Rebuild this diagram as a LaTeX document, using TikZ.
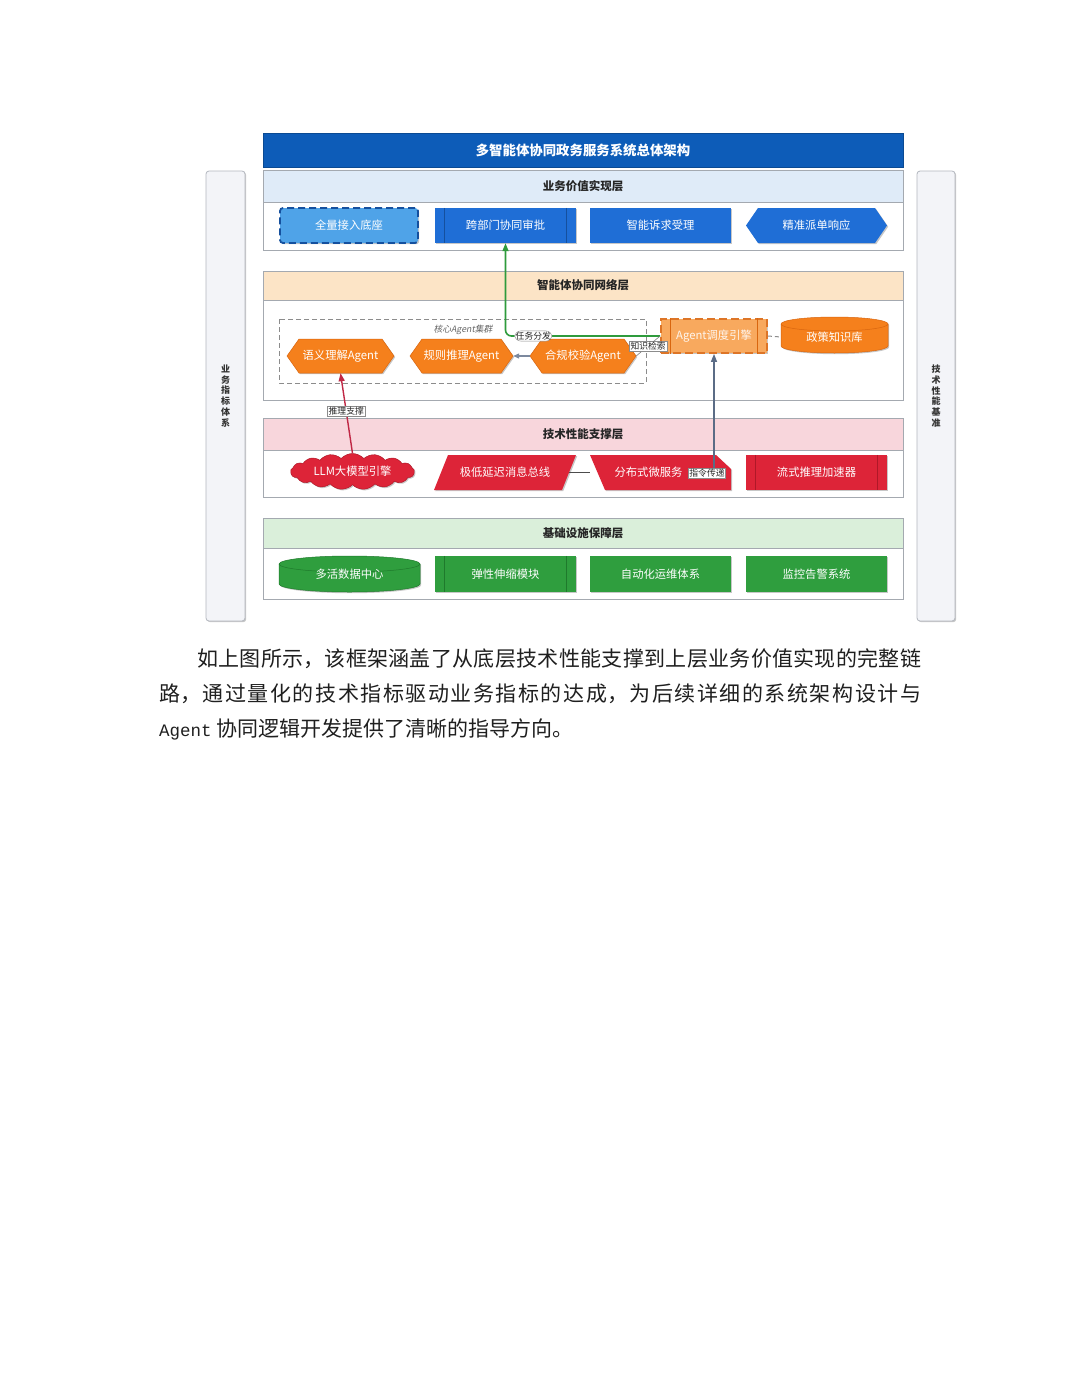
\documentclass[tikz,border=0pt]{standalone}
\usepackage{fontspec}
\setmainfont{Noto Sans CJK SC}
\newfontfamily\monof{Liberation Mono}
\newfontfamily\slcjk{Noto Sans CJK SC}[FakeSlant=0.2]
\usetikzlibrary{shapes.symbols,shapes.geometric,shadows,arrows.meta}
\XeTeXlinebreaklocale "zh"
\XeTeXlinebreakskip=0pt plus 2pt\relax
\definecolor{titleblue}{HTML}{0D5CB8}
\definecolor{bluehdr}{HTML}{DFEBF8}
\definecolor{bluenode}{HTML}{1F6ED6}
\definecolor{bluedark}{HTML}{15509E}
\definecolor{bluelight}{HTML}{4FA3E8}
\definecolor{orghdr}{HTML}{FCE4C6}
\definecolor{orgnode}{HTML}{F5801C}
\definecolor{orglight}{HTML}{F8A95E}
\definecolor{orgdark}{HTML}{D9660F}
\definecolor{redhdr}{HTML}{F8D6DC}
\definecolor{rednode}{HTML}{DD2438}
\definecolor{reddark}{HTML}{B01828}
\definecolor{grnhdr}{HTML}{DAEFDA}
\definecolor{grnnode}{HTML}{2F9E3E}
\definecolor{grndark}{HTML}{1F7A2C}
\definecolor{sidefill}{HTML}{F3F4F8}
\definecolor{sidedraw}{HTML}{B3B7BF}
\definecolor{laydraw}{HTML}{A4A9B0}
\definecolor{slate}{HTML}{5B6C86}
\definecolor{greenline}{HTML}{2E9B3C}
\definecolor{crimson}{HTML}{C02845}
\newcommand\hexshape[6]{\path[#6] (#1,{(#2+#4)/2}) -- ({#1+#5},#2) -- ({#3-#5},#2) -- (#3,{(#2+#4)/2}) -- ({#3-#5},#4) -- ({#1+#5},#4) -- cycle;}
\newcommand\cylshape[6]{%
  \path[#6] (#1,{#2+#5}) -- (#1,{#4-#5}) arc[start angle=180,end angle=0,x radius={(#3-#1)/2},y radius=#5] -- (#3,{#2+#5}) arc[start angle=0,end angle=-180,x radius={(#3-#1)/2},y radius=#5] -- cycle;}
\begin{document}
\begin{tikzpicture}[x=1pt,y=-1pt,
  hdrtxt/.style={font=\bfseries\fontsize{11.5}{13}\selectfont, text=black!85},
  ntxt/.style={font=\fontsize{11.3}{13}\selectfont, text=white, inner sep=0pt},
  lbl/.style={font=\fontsize{8.8}{10}\selectfont, fill=white, draw=black!45, line width=0.4pt, inner sep=1pt, text=black!85},
  sh/.style={drop shadow={shadow xshift=1.2pt, shadow yshift=-1.2pt, opacity=0.22, fill=black}},
  layer/.style={draw=laydraw, line width=0.8pt, fill=white, minimum width=640, inner sep=0pt},
  hdr/.style={draw=laydraw, line width=0.8pt, minimum width=640, inner sep=0pt, hdrtxt},
  inl/.style={line width=0.9pt},
  sidebar/.style={draw=sidedraw, fill=sidefill, rounded corners=3pt, line width=0.8pt, sh, inner sep=0pt},
  sidetxt/.style={font=\bfseries\fontsize{9}{10.8}\selectfont, text=black!80, align=center},
]
\useasboundingbox (0,0) rectangle (1080,1397);
\fill[white] (0,0) rectangle (1080,1397);

% side bars
\node[sidebar, minimum width=39, minimum height=450] (lbar) at (225.5,396) {};
\node[sidetxt] (lbart) at (lbar.center) {业\\务\\指\\标\\体\\系};
\node[sidebar, minimum width=38, minimum height=450] (rbar) at (936,396) {};
\node[sidetxt] (rbart) at (rbar.center) {技\\术\\性\\能\\基\\准};

% title
\node[fill=titleblue, draw=titleblue!80!black, minimum width=640, minimum height=34, inner sep=0pt, font=\bfseries\fontsize{13.4}{15}\selectfont, text=white, sh] (title) at (583,150) {多智能体协同政务服务系统总体架构};

% layers
\node[layer, minimum height=80] (L1) at (583,210) {};
\node[hdr, fill=bluehdr, minimum height=32] (L1h) at (583,186) {业务价值实现层};
\node[layer, minimum height=129] (L2) at (583,335.5) {};
\node[hdr, fill=orghdr, minimum height=29] (L2h) at (583,285.5) {智能体协同网络层};
\node[layer, minimum height=79] (L3) at (583,457.5) {};
\node[hdr, fill=redhdr, minimum height=32] (L3h) at (583,434) {技术性能支撑层};
\node[layer, minimum height=81] (L4) at (583,558.5) {};
\node[hdr, fill=grnhdr, minimum height=30] (L4h) at (583,533) {基础设施保障层};

% ---- business layer nodes
\node[ntxt, fill=bluelight, draw=bluedark, line width=1.8pt, dash pattern=on 7pt off 4pt, rounded corners=3pt, minimum width=138, minimum height=35, sh] (b1) at (349,225.5) {全量接入底座};
\node[ntxt, fill=bluenode, minimum width=141, minimum height=35, sh] (b2) at (505.5,225.5) {跨部门协同审批};
\draw[inl, draw=bluedark] ([xshift=10pt]b2.north west) -- ([xshift=10pt]b2.south west);
\draw[inl, draw=bluedark] ([xshift=-10pt]b2.north east) -- ([xshift=-10pt]b2.south east);
\node[ntxt, fill=bluenode, minimum width=141, minimum height=35, sh] (b3) at (660.5,225.5) {智能诉求受理};
\hexshape{746}{208}{887}{243}{12}{fill=bluenode, sh}
\node[ntxt, minimum width=141, minimum height=35] (b4) at (816.5,225.5) {精准派单响应};

% ---- agent layer
\draw[black!45, dashed, line width=0.7pt, dash pattern=on 5pt off 3pt] (279,319) rectangle (646,383);
\node[font=\slcjk\fontsize{8.8}{10}\selectfont, text=black!60, inner sep=0pt] (clab) at (463,330) {核心Agent集群};
\hexshape{287}{339}{394}{373}{12}{fill=orgnode, draw=orgdark, line width=0.5pt, sh}
\node[ntxt, minimum width=107, minimum height=34] (a1) at (340.5,356) {语义理解Agent};
\hexshape{410}{339}{513}{373}{12}{fill=orgnode, draw=orgdark, line width=0.5pt, sh}
\node[ntxt, minimum width=103, minimum height=34] (a2) at (461.5,356) {规则推理Agent};
\hexshape{530}{339}{636}{373}{12}{fill=orgnode, draw=orgdark, line width=0.5pt, sh}
\node[ntxt, minimum width=106, minimum height=34] (a3) at (583,356) {合规校验Agent};
\node[ntxt, text=white!92!orgnode, fill=orglight, draw=orgdark!90, line width=1.8pt, dash pattern=on 8pt off 4pt, minimum width=106, minimum height=34, sh] (disp) at (714,336) {Agent调度引擎};
\draw[inl, draw=orgdark] ([xshift=10pt]disp.north west) -- ([xshift=10pt]disp.south west);
\draw[inl, draw=orgdark] ([xshift=-10pt]disp.north east) -- ([xshift=-10pt]disp.south east);
\cylshape{781}{317}{888}{353}{7}{fill=orgnode, draw=orgdark, line width=0.5pt, sh}
\draw[orgdark, line width=0.5pt] (781,324) arc[start angle=180,end angle=0,x radius=53.5,y radius=7];
\node[ntxt, minimum width=107, minimum height=30] (kb) at (834.5,337) {政策知识库};

% ---- tech layer
\node[cloud, cloud puffs=17, cloud puff arc=95, aspect=4, fill=rednode, draw=reddark, line width=0.5pt, minimum width=124, minimum height=30, inner sep=0pt, font=\fontsize{11.3}{13}\selectfont, text=white, sh] (llm) at (352.5,471.5) {LLM大模型引擎};
\path[fill=rednode, sh] (448,455) -- (576,455) -- (562,490) -- (434,490) -- cycle;
\node[ntxt, minimum width=128, minimum height=35] (bus) at (505,472.5) {极低延迟消息总线};
\path[fill=rednode, sh] (590,455) -- (716,455) -- (731,469) -- (731,490) -- (605,490) -- cycle;
\node[ntxt, minimum width=117, minimum height=35] (ms) at (648.5,472.5) {分布式微服务};
\node[ntxt, fill=rednode, minimum width=141, minimum height=35, sh] (acc) at (816.5,472.5) {流式推理加速器};
\draw[inl, draw=reddark] ([xshift=10pt]acc.north west) -- ([xshift=10pt]acc.south west);
\draw[inl, draw=reddark] ([xshift=-10pt]acc.north east) -- ([xshift=-10pt]acc.south east);

% ---- infrastructure layer
\cylshape{279}{556}{420}{592}{8}{fill=grnnode, draw=grndark, line width=0.5pt, sh}
\draw[grndark, line width=0.5pt] (279,564) arc[start angle=180,end angle=0,x radius=70.5,y radius=8];
\node[ntxt, minimum width=141, minimum height=30] (dc) at (349.5,574) {多活数据中心};
\node[ntxt, fill=grnnode, minimum width=141, minimum height=36, sh] (g2) at (505.5,574) {弹性伸缩模块};
\draw[inl, draw=grndark] ([xshift=10pt]g2.north west) -- ([xshift=10pt]g2.south west);
\draw[inl, draw=grndark] ([xshift=-10pt]g2.north east) -- ([xshift=-10pt]g2.south east);
\node[ntxt, fill=grnnode, minimum width=141, minimum height=36, sh] (g3) at (660.5,574) {自动化运维体系};
\node[ntxt, fill=grnnode, minimum width=141, minimum height=36, sh] (g4) at (816.5,574) {监控告警系统};

% ---- connectors
\draw[greenline, line width=1.6pt, rounded corners=6pt, -{Triangle[length=8pt,width=6pt]}] (disp.west) -| (b2.south) node[lbl, pos=0.41] (lt1) {任务分发};
\draw[black!50, line width=0.6pt] (disp.west) -- (a3.east) node[lbl, midway] (lt2) {知识检索};
\draw[slate!80, line width=1.2pt, -{Triangle[length=6pt,width=5pt]}] (a3.west) -- (a2.east);
\draw[black!45, line width=1pt, dashed, dash pattern=on 4pt off 3pt] (disp.east) -- (kb.west);
\draw[slate, line width=1.3pt, -{Triangle[length=8pt,width=6pt]}] (disp.south |- ms.center) -- (disp.south);
\node[lbl, fill=white] (lt3) at (707,473) {指令传递};
\draw[black!70, line width=1pt] (bus.east) -- (ms.west);
\draw[crimson, line width=1.4pt, -{Triangle[length=8pt,width=6pt]}] (llm.north) -- (a1.south) node[lbl, pos=0.52] (lt4) {推理支撑};

% ---- paragraph
\node[anchor=north west, inner sep=0pt, text width=762pt, align=justify, font=\fontsize{21}{35}\selectfont, text=black!88] (para) at (159,648) {\hspace*{38pt}如上图所示，该框架涵盖了从底层技术性能支撑到上层业务价值实现的完整链\linebreak 路，通过量化的技术指标驱动业务指标的达成，为后续详细的系统架构设计与\linebreak {\monof\fontsize{17.5}{35}\selectfont Agent} 协同逻辑开发提供了清晰的指导方向。};
\end{tikzpicture}
\end{document}
